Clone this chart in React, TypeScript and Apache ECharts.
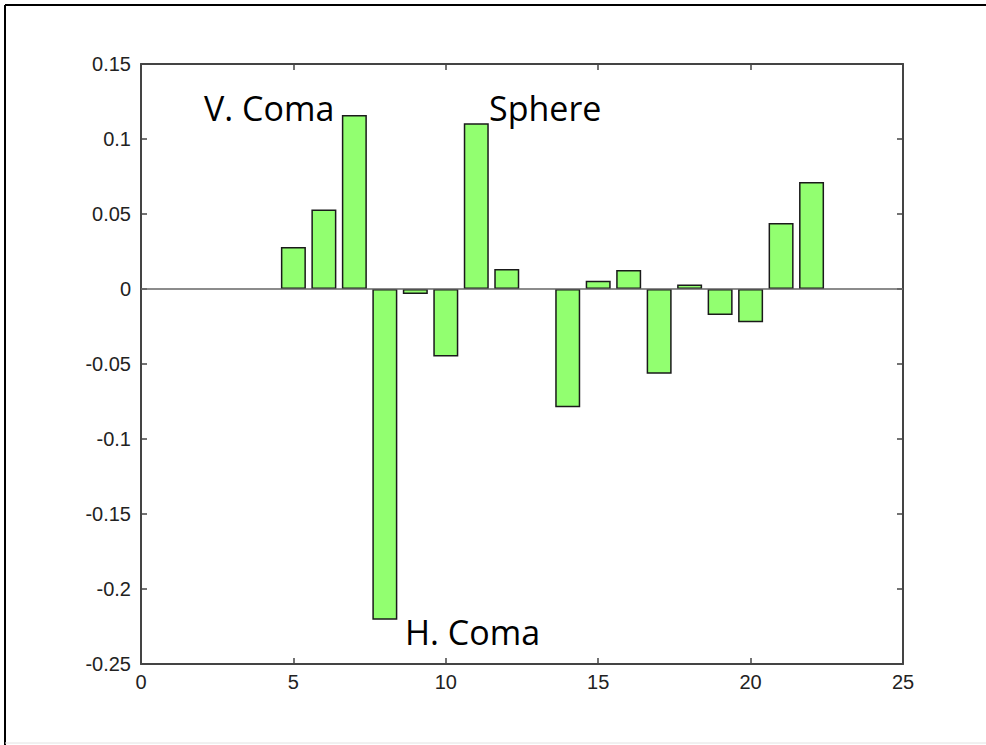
import React, { useEffect, useRef } from "react";
import * as echarts from "echarts";

// Data (bar index -> coefficient)
const positions = [5, 6, 7, 8, 9, 10, 11, 12, 14, 15, 16, 17, 18, 19, 20, 21, 22];
const values = [0.028, 0.053, 0.116, -0.2205, -0.0033, -0.045, 0.1105, 0.0133, -0.0788, 0.0055, 0.0127, -0.0565, 0.003, -0.0173, -0.0222, 0.044, 0.0713];
const annotations = ["V. Coma", "Sphere", "H. Coma"];
const xTicks = { min: 0, max: 25, interval: 5 };
const yTicks = { min: -0.25, max: 0.15, interval: 0.05 };

export default function App() {
  const ref = useRef<HTMLDivElement>(null);
  useEffect(() => {
    if (!ref.current) return;
    const chart = echarts.init(ref.current, null, { renderer: "svg" });
    const axisColor = "#444";
    const labelStyle = {
      color: "#222",
      fontFamily: "Liberation Sans, Arial, sans-serif",
      fontSize: 20,
    };
    const fmtY = (v: number) => String(parseFloat(v.toFixed(2)));
    const annoFont = {
      fontFamily: "Open Sans, Noto Sans, sans-serif",
      fontSize: 34,
      fill: "#000",
    };
    chart.setOption({
      animation: false,
      backgroundColor: "#fff",
      grid: { left: 141, top: 64, right: 83, bottom: 81, containLabel: false },
      xAxis: [
        {
          type: "value",
          position: "bottom",
          min: xTicks.min,
          max: xTicks.max,
          interval: xTicks.interval,
          axisLine: { show: true, onZero: false, lineStyle: { color: axisColor, width: 2 } },
          axisTick: { show: true, inside: true, length: 6, lineStyle: { color: axisColor, width: 1.5 } },
          axisLabel: { ...labelStyle, margin: 8 },
          splitLine: { show: false },
        },
        {
          type: "value",
          position: "top",
          min: xTicks.min,
          max: xTicks.max,
          interval: xTicks.interval,
          axisLine: { show: true, onZero: false, lineStyle: { color: axisColor, width: 2 } },
          axisTick: { show: true, inside: true, length: 6, lineStyle: { color: axisColor, width: 1.5 } },
          axisLabel: { show: false },
          splitLine: { show: false },
        },
      ],
      yAxis: [
        {
          type: "value",
          position: "left",
          min: yTicks.min,
          max: yTicks.max,
          interval: yTicks.interval,
          axisLine: { show: true, onZero: false, lineStyle: { color: axisColor, width: 2 } },
          axisTick: { show: true, inside: true, length: 6, lineStyle: { color: axisColor, width: 1.5 } },
          axisLabel: { ...labelStyle, margin: 10, formatter: fmtY },
          splitLine: { show: false },
        },
        {
          type: "value",
          position: "right",
          min: yTicks.min,
          max: yTicks.max,
          interval: yTicks.interval,
          axisLine: { show: true, onZero: false, lineStyle: { color: axisColor, width: 2 } },
          axisTick: { show: true, inside: true, length: 6, lineStyle: { color: axisColor, width: 1.5 } },
          axisLabel: { show: false },
          splitLine: { show: false },
        },
      ],
      series: [
        {
          type: "bar",
          xAxisIndex: 0,
          yAxisIndex: 0,
          barWidth: 25,
          data: positions.map((p, i) => [p, values[i]]),
          itemStyle: { color: "#92ff70", borderColor: "#1a1a1a", borderWidth: 1.5 },
          markLine: {
            silent: true,
            symbol: "none",
            label: { show: false },
            lineStyle: { color: "#666", width: 1.5, type: "solid" },
            data: [{ yAxis: 0 }],
          },
        },
      ],
      graphic: [
        { type: "line", shape: { x1: 5, y1: 5, x2: 5, y2: 745 }, style: { stroke: "#000", lineWidth: 2 } },
        { type: "line", shape: { x1: 5, y1: 5, x2: 986, y2: 5 }, style: { stroke: "#000", lineWidth: 2 } },
        { type: "line", shape: { x1: 5, y1: 743, x2: 986, y2: 743 }, style: { stroke: "#e2e2e2", lineWidth: 1 } },
        { type: "text", x: 204, y: 108, style: { ...annoFont, text: annotations[0], verticalAlign: "middle", align: "left" } },
        { type: "text", x: 489, y: 108, style: { ...annoFont, text: annotations[1], verticalAlign: "middle", align: "left" } },
        { type: "text", x: 405, y: 632, style: { ...annoFont, text: annotations[2], verticalAlign: "middle", align: "left" } },
      ],
    });
    return () => chart.dispose();
  }, []);
  return (
    <div
      ref={ref}
      style={{ position: "fixed", left: 0, top: 0, width: 986, height: 745 }}
    />
  );
}
